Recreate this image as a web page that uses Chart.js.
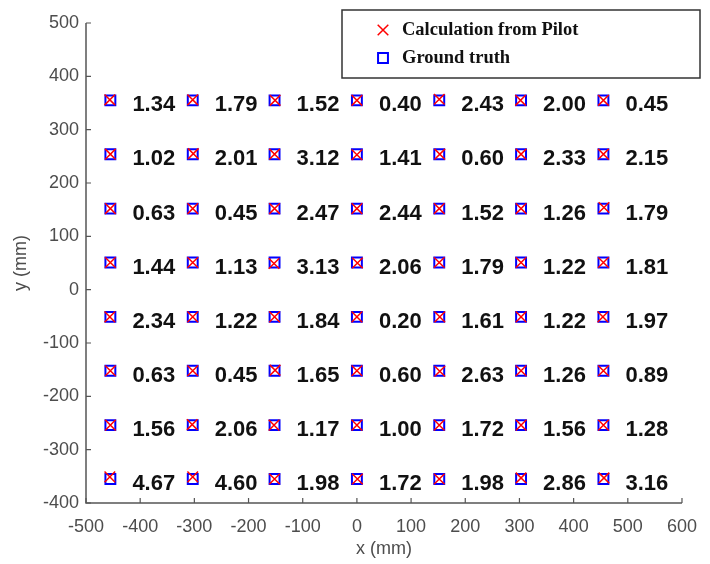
<!DOCTYPE html>
<html>
<head>
<meta charset="utf-8">
<script src="https://cdn.jsdelivr.net/npm/chart.js@4.4.1/dist/chart.umd.min.js"></script>
<style>
  html, body { margin: 0; padding: 0; background: #fff; }
  #wrap { width: 710px; height: 564px; }
</style>
</head>
<body>
<div id="wrap"><canvas id="myChart" width="710" height="564"></canvas></div>
<script>
// grid of ground-truth positions (mm)
var colX = [-455, -303, -152, 0, 152, 303, 455];
var rowY = [355, 254, 152, 51, -51, -152, -254, -355];

// positions calculated from Pilot, row by row (top to bottom)
var calcX = [
  [-456, -303, -151, 0, 152, 302, 455],
  [-455, -302, -152, 0, 153, 303, 455],
  [-455, -303, -152, 0, 152, 303, 456],
  [-455, -303, -153, 1, 152, 303, 455],
  [-456, -303, -152, 0, 153, 303, 454],
  [-455, -303, -151, 0, 153, 303, 455],
  [-455, -304, -153, 0, 152, 303, 455],
  [-456, -303, -152, 1, 152, 303, 456]
];
var calcY = [
  [356, 356, 355, 355, 357, 355, 355],
  [254, 255, 254, 253, 254, 254, 254],
  [152, 152, 152, 152, 152, 152, 154],
  [51, 51, 49, 50, 51, 51, 51],
  [-51, -51, -51, -51, -51, -51, -51],
  [-152, -152, -151, -152, -153, -152, -152],
  [-254, -253, -254, -254, -254, -254, -254],
  [-351, -351, -355, -355, -355, -353, -353]
];

// error labels (mm), row by row
var errRows = [
  ["1.34", "1.79", "1.52", "0.40", "2.43", "2.00", "0.45"],
  ["1.02", "2.01", "3.12", "1.41", "0.60", "2.33", "2.15"],
  ["0.63", "0.45", "2.47", "2.44", "1.52", "1.26", "1.79"],
  ["1.44", "1.13", "3.13", "2.06", "1.79", "1.22", "1.81"],
  ["2.34", "1.22", "1.84", "0.20", "1.61", "1.22", "1.97"],
  ["0.63", "0.45", "1.65", "0.60", "2.63", "1.26", "0.89"],
  ["1.56", "2.06", "1.17", "1.00", "1.72", "1.56", "1.28"],
  ["4.67", "4.60", "1.98", "1.72", "1.98", "2.86", "3.16"]
];

var xTicks = [-500, -400, -300, -200, -100, 0, 100, 200, 300, 400, 500, 600];
var yTicks = [-400, -300, -200, -100, 0, 100, 200, 300, 400, 500];

var truthPts = [], calcPts = [], errPts = [];
for (var r = 0; r < rowY.length; r++) {
  for (var c = 0; c < colX.length; c++) {
    truthPts.push({x: colX[c], y: rowY[r]});
    calcPts.push({x: calcX[r][c], y: calcY[r][c]});
    errPts.push({x: colX[c], y: rowY[r], t: errRows[r][c]});
  }
}

var axisColor = "#555555";
var tickColor = "#4d4d4d";
var sansFont = "'Liberation Sans', Arial, sans-serif";

// axis lines with inward ticks, error labels and framed legend
var extras = {
  id: "extras",
  afterDatasetsDraw: function(chart) {
    var ctx = chart.ctx, xs = chart.scales.x, ys = chart.scales.y;
    var a = chart.chartArea;
    ctx.save();
    // axes
    ctx.strokeStyle = axisColor;
    ctx.lineWidth = 1.5;
    ctx.beginPath();
    ctx.moveTo(a.left, a.top);
    ctx.lineTo(a.left, a.bottom);
    ctx.lineTo(a.right, a.bottom);
    ctx.stroke();
    ctx.lineWidth = 1.2;
    ctx.beginPath();
    xTicks.forEach(function(v) {
      var px = xs.getPixelForValue(v);
      ctx.moveTo(px, a.bottom);
      ctx.lineTo(px, a.bottom - 5);
    });
    yTicks.forEach(function(v) {
      var py = ys.getPixelForValue(v);
      ctx.moveTo(a.left, py);
      ctx.lineTo(a.left + 5, py);
    });
    ctx.stroke();

    // error values
    ctx.fillStyle = "#111111";
    ctx.font = "bold 22px " + sansFont;
    ctx.textAlign = "left";
    ctx.textBaseline = "middle";
    errPts.forEach(function(p) {
      ctx.fillText(p.t, xs.getPixelForValue(p.x) + 22, ys.getPixelForValue(p.y) + 5);
    });

    // legend
    var lx = 342, ly = 10, lw = 358, lh = 68;
    ctx.fillStyle = "#ffffff";
    ctx.fillRect(lx, ly, lw, lh);
    ctx.strokeStyle = "#333333";
    ctx.lineWidth = 1.5;
    ctx.strokeRect(lx, ly, lw, lh);
    ctx.font = "bold 18.5px 'Liberation Serif', 'Times New Roman', serif";
    chart.data.datasets.forEach(function(ds, i) {
      var my = ly + 20 + i * 28;
      ctx.fillStyle = "rgba(0,0,0,0)";
      ctx.strokeStyle = ds.borderColor;
      ctx.lineWidth = ds.borderWidth;
      Chart.helpers.drawPoint(ctx, {
        pointStyle: ds.pointStyle, radius: ds.pointRadius,
        borderWidth: ds.borderWidth
      }, lx + 41, my);
      ctx.fillStyle = "#111111";
      ctx.fillText(ds.label, lx + 60, my);
    });
    ctx.restore();
  }
};

new Chart("myChart", {
  type: "scatter",
  data: {
    datasets: [
      {
        label: "Calculation from Pilot",
        data: calcPts,
        pointStyle: "crossRot",
        pointRadius: 7.5,
        borderColor: "#ff0000",
        backgroundColor: "#ff0000",
        borderWidth: 1.5
      },
      {
        label: "Ground truth",
        data: truthPts,
        pointStyle: "rect",
        pointRadius: 7,
        borderColor: "#0000ff",
        backgroundColor: "rgba(0,0,0,0)",
        borderWidth: 2
      }
    ]
  },
  options: {
    responsive: false,
    animation: false,
    layout: {padding: {top: 23, right: 18, left: 0, bottom: 0}},
    plugins: {legend: {display: false}, tooltip: {enabled: false}},
    scales: {
      x: {
        type: "linear", min: -500, max: 600,
        afterBuildTicks: function(s) { s.ticks = xTicks.map(function(v) { return {value: v}; }); },
        afterFit: function(s) { s.height = 61; },
        grid: {display: false, drawTicks: false},
        border: {display: false},
        ticks: {color: tickColor, padding: 13, maxRotation: 0, autoSkip: false,
                font: {family: sansFont, size: 18}},
        title: {display: true, text: "x (mm)", color: tickColor, padding: {top: 0, bottom: 4},
                font: {family: sansFont, size: 18}}
      },
      y: {
        type: "linear", min: -400, max: 500,
        afterBuildTicks: function(s) { s.ticks = yTicks.map(function(v) { return {value: v}; }); },
        afterFit: function(s) { s.width = 86; },
        grid: {display: false, drawTicks: false},
        border: {display: false},
        ticks: {color: tickColor, padding: 7, autoSkip: false,
                font: {family: sansFont, size: 18}},
        title: {display: true, text: "y (mm)", color: tickColor, padding: {top: 10, bottom: 4},
                font: {family: sansFont, size: 18}}
      }
    }
  },
  plugins: [extras]
});
</script>
</body>
</html>
